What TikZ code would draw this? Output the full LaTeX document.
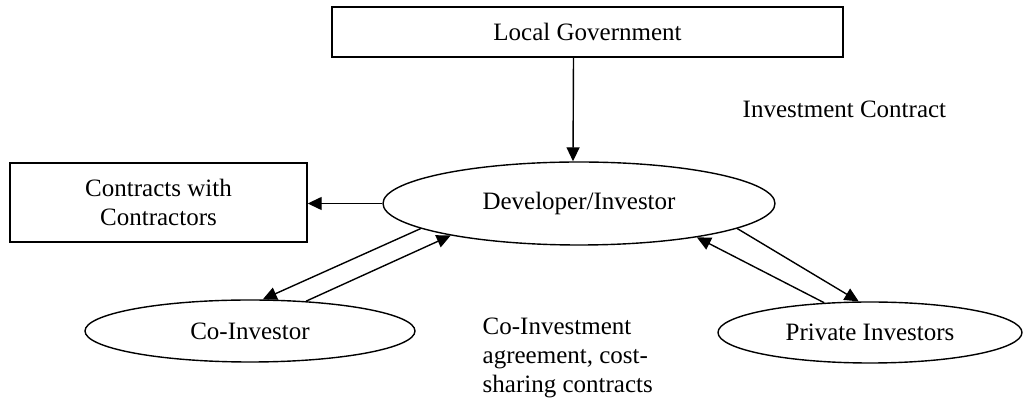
\documentclass[tikz,border=0pt]{standalone}
\usepackage{fontspec}
\setmainfont{Liberation Serif}
\usetikzlibrary{shapes.geometric,arrows.meta}
\begin{document}
\begin{tikzpicture}[x=0.5pt,y=-0.5pt,
  every node/.style={font=\fontsize{12.5}{14.5}\selectfont, inner sep=0pt, line width=0.7pt},
  box/.style={draw, rectangle, align=center},
  oval/.style={draw, ellipse},
  arr/.style={-{Triangle[length=7pt,width=6.5pt]}, line width=0.7pt},
  lbl/.style={align=left}]
\useasboundingbox (0,0) rectangle (1035,400);

% boxes and ellipses
\node[box, minimum width=255.5pt, minimum height=25pt] (gov) at (587.5,32) {Local Government};
\node[oval, minimum width=196pt, minimum height=41.5pt] (dev) at (579,203.5) {Developer/Investor};
\node[box, minimum width=148.5pt, minimum height=39.5pt] (contr) at (158.5,202.5) {Contracts with\\Contractors};
\node[oval, minimum width=165pt, minimum height=31pt] (co) at (250,331) {Co-Investor};
\node[oval, minimum width=152pt, minimum height=30.5pt] (priv) at (870,332.5) {Private Investors};

% free labels
\node[anchor=base west] (invlbl) at (742,118) {Investment Contract};
\node[lbl, anchor=north west] (colbl) at (482,317) {Co-Investment\\agreement, cost-\\sharing contracts};

% connectors
\draw[arr] ([xshift=-7pt]gov.south) -- ([xshift=-3pt]dev.north);
\draw[arr] (dev.west) -- (dev.west -| contr.east);
\draw[arr] (dev.189) -- (co.68);
\draw[arr] (co.28) -- (dev.194.5);
\draw[arr] (dev.351.4) -- (priv.110);
\draw[arr] (priv.147) -- (dev.344.5);
\end{tikzpicture}
\end{document}
